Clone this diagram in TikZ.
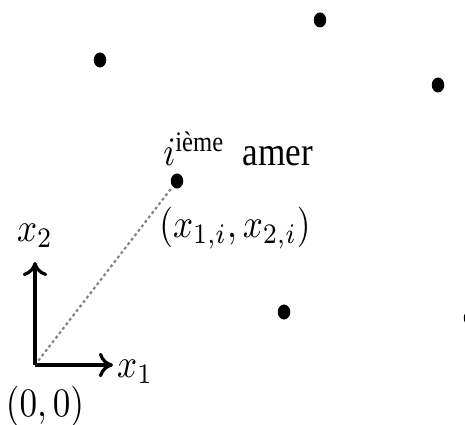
\documentclass[tikz,border=0pt]{standalone}
\usepackage{amsmath}
\usepackage{fontspec}
\newfontfamily\amerfont{Liberation Serif}
\usetikzlibrary{positioning, arrows.meta, shapes.geometric}
\tikzset{
    amer/.style={ellipse, fill=black, draw=none, minimum width=1.25mm, minimum height=1.5mm, inner sep=0pt},
    axe/.style={-{To[length=4pt, width=7pt]}, line width=0.9pt},
    visee/.style={gray, line width=0.6pt, dash pattern=on 0.8pt off 0.8pt},
    lbl/.style={inner sep=1pt, font=\normalsize, yscale=1.15}
}
\begin{document}
\begin{tikzpicture}
        \useasboundingbox (-0.35,-0.59) rectangle (4.30,3.65);
        % amers
        \node[amer] (a1) at (0.65, 3.05) {};
        \node[amer] (a2) at (2.85, 3.45) {};
        \node[amer] (a3) at (4.03, 2.80) {};
        \node[amer] (ai) at (1.42, 1.84) {};
        \node[amer] (a5) at (2.49, 0.53) {};
        \node[amer] (a6) at (4.35, 0.47) {};
        % repere
        \coordinate (o)  at (0,0);
        \coordinate (e1) at (0.78,0);
        \coordinate (e2) at (0,1.03);
        \draw[visee] (o) -- (ai);
        \draw[axe] (o) -- (e1);
        \draw[axe] (o) -- (e2);
        \node[lbl, right=0cm of e1, yshift=-0.06cm] (lx1) {$x_1$};
        \node[lbl, above=0.1cm of e2] (lx2) {$x_2$};
        \node[lbl] (lo) at (0.10,-0.41) {$(0,0)$};
        % i-eme amer
        \node[lbl] (nomi) at (2.03, 2.16) {$i^{\text{\amerfont ième}}$\hspace{0.5em}{\amerfont amer}};
        \node[lbl] (coordi) at (2.00, 1.37) {$(x_{1,i}, x_{2,i})$};
        \end{tikzpicture}
\end{document}
